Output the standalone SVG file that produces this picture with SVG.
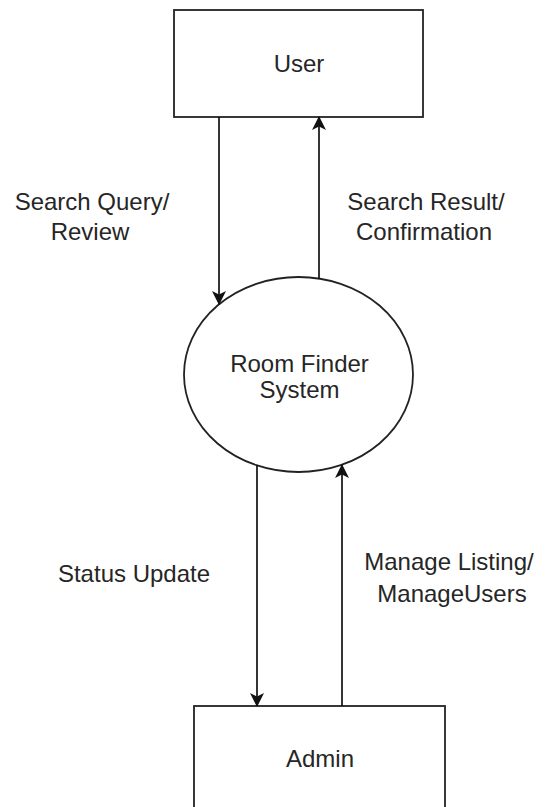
<svg xmlns="http://www.w3.org/2000/svg" width="545" height="807" viewBox="0 0 545 807">
  <style>
    .box { fill: #ffffff; stroke: #222222; stroke-width: 1.8; }
    .lbl { font-family: "Liberation Sans", Arial, sans-serif; font-size: 24px; fill: #262626; text-anchor: middle; }
    .edge { fill: none; stroke: #111111; stroke-width: 1.7; }
  </style>
  <defs>
    <marker id="arrow" viewBox="0 0 14 14" refX="13" refY="7" markerWidth="14" markerHeight="14" markerUnits="userSpaceOnUse" orient="auto">
      <path d="M0,0 L14,7 L0,14 L3.5,7 Z" fill="#111111"/>
    </marker>
  </defs>
  <rect width="545" height="807" fill="#ffffff"/>

  <g id="user">
    <rect class="box" x="174" y="10" width="249" height="107"/>
    <text class="lbl" x="299" y="72">User</text>
  </g>

  <g id="system">
    <ellipse class="box" cx="298.5" cy="374.5" rx="114.5" ry="97.5"/>
    <text class="lbl" x="299.5" y="372">Room Finder</text>
    <text class="lbl" x="299.5" y="398">System</text>
  </g>

  <g id="admin">
    <rect class="box" x="194" y="706" width="251" height="108"/>
    <text class="lbl" x="320" y="767">Admin</text>
  </g>

  <g id="connectors">
    <line class="edge" x1="219" y1="117" x2="219" y2="304" marker-end="url(#arrow)"/>
    <line class="edge" x1="319" y1="279" x2="319" y2="117" marker-end="url(#arrow)"/>
    <line class="edge" x1="257" y1="465" x2="257" y2="706" marker-end="url(#arrow)"/>
    <line class="edge" x1="342" y1="706" x2="342" y2="465" marker-end="url(#arrow)"/>
  </g>

  <g id="edge-labels">
    <text class="lbl" x="92" y="210">Search Query/</text>
    <text class="lbl" x="90" y="240">Review</text>
    <text class="lbl" x="426" y="210">Search Result/</text>
    <text class="lbl" x="424" y="240">Confirmation</text>
    <text class="lbl" x="134" y="582">Status Update</text>
    <text class="lbl" x="449" y="570">Manage Listing/</text>
    <text class="lbl" x="452" y="602">ManageUsers</text>
  </g>
</svg>
